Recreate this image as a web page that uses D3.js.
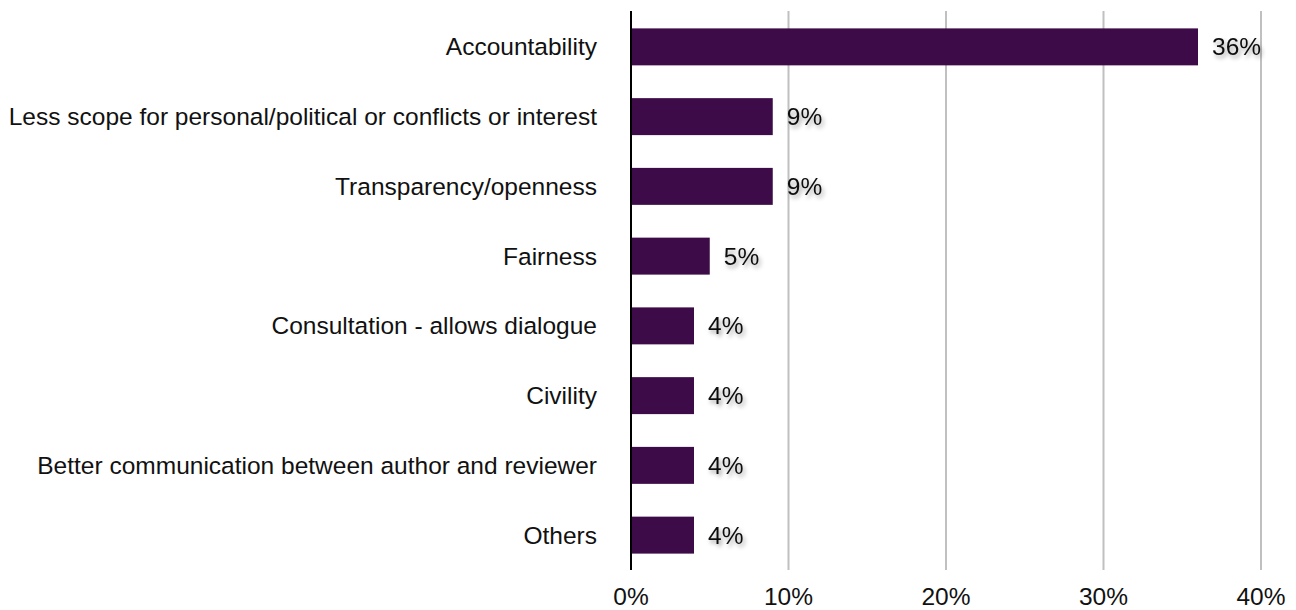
<!DOCTYPE html>
<html>
<head>
<meta charset="utf-8">
<script src="https://cdn.jsdelivr.net/npm/d3@7"></script>
<style>
  html, body { margin: 0; padding: 0; background: #fff; }
  svg { display: block; font-family: "Helvetica Neue", Helvetica, "Liberation Sans", Arial, sans-serif; }
</style>
</head>
<body>
<svg id="chart" width="1296" height="610"></svg>
<script>
// Reasons given, share of responses (%)
const categories = [
  "Accountability",
  "Less scope for personal/political or conflicts or interest",
  "Transparency/openness",
  "Fairness",
  "Consultation - allows dialogue",
  "Civility",
  "Better communication between author and reviewer",
  "Others"
];
const values = [36, 9, 9, 5, 4, 4, 4, 4];
const tickValues = [0, 10, 20, 30, 40];
const tickLabels = ["0%", "10%", "20%", "30%", "40%"];

const svg = d3.select("#chart");
const margin = { left: 631, right: 35, top: 12, bottom: 40 };
const W = 1296, H = 610;
const fontSize = 24.5;

const x = d3.scaleLinear().domain([0, 40]).range([margin.left, W - margin.right]);
const y = d3.scaleBand().domain(categories).range([margin.top, H - margin.bottom]).paddingInner(0.47).paddingOuter(0.235);

// soft drop shadow used behind the value labels
const defs = svg.append("defs");
const f = defs.append("filter").attr("id", "labelShadow").attr("x", "-20%").attr("y", "-30%").attr("width", "150%").attr("height", "180%");
f.append("feDropShadow").attr("dx", 2).attr("dy", 3).attr("stdDeviation", 2).attr("flood-color", "#000").attr("flood-opacity", 0.35);

// vertical gridlines
svg.append("g").selectAll("line")
  .data(tickValues.filter(d => d > 0))
  .join("line")
  .attr("x1", d => x(d)).attr("x2", d => x(d))
  .attr("y1", 11).attr("y2", 570)
  .attr("stroke", "#c0c0c0").attr("stroke-width", 2);

// bars
svg.append("g").selectAll("rect")
  .data(categories)
  .join("rect")
  .attr("x", x(0))
  .attr("y", d => y(d))
  .attr("width", (d, i) => x(values[i]) - x(0))
  .attr("height", y.bandwidth())
  .attr("fill", "#3d0b47");

// zero axis line
svg.append("line")
  .attr("x1", x(0)).attr("x2", x(0))
  .attr("y1", 11).attr("y2", 570)
  .attr("stroke", "#000").attr("stroke-width", 2);

// category labels
svg.append("g").selectAll("text")
  .data(categories)
  .join("text")
  .attr("x", x(0) - 34)
  .attr("y", d => y(d) + y.bandwidth() / 2)
  .attr("dy", "0.35em")
  .attr("text-anchor", "end")
  .attr("font-size", fontSize)
  .attr("fill", "#111")
  .text(d => d);

// value labels
svg.append("g").selectAll("text")
  .data(categories)
  .join("text")
  .attr("x", (d, i) => x(values[i]) + 14)
  .attr("y", d => y(d) + y.bandwidth() / 2)
  .attr("dy", "0.35em")
  .attr("font-size", fontSize)
  .attr("fill", "#111")
  .attr("filter", "url(#labelShadow)")
  .text((d, i) => values[i] + "%");

// x tick labels
svg.append("g").selectAll("text")
  .data(tickValues)
  .join("text")
  .attr("x", d => x(d))
  .attr("y", 596)
  .attr("dy", "0.35em")
  .attr("text-anchor", "middle")
  .attr("font-size", fontSize)
  .attr("fill", "#111")
  .text((d, i) => tickLabels[i]);
</script>
</body>
</html>
